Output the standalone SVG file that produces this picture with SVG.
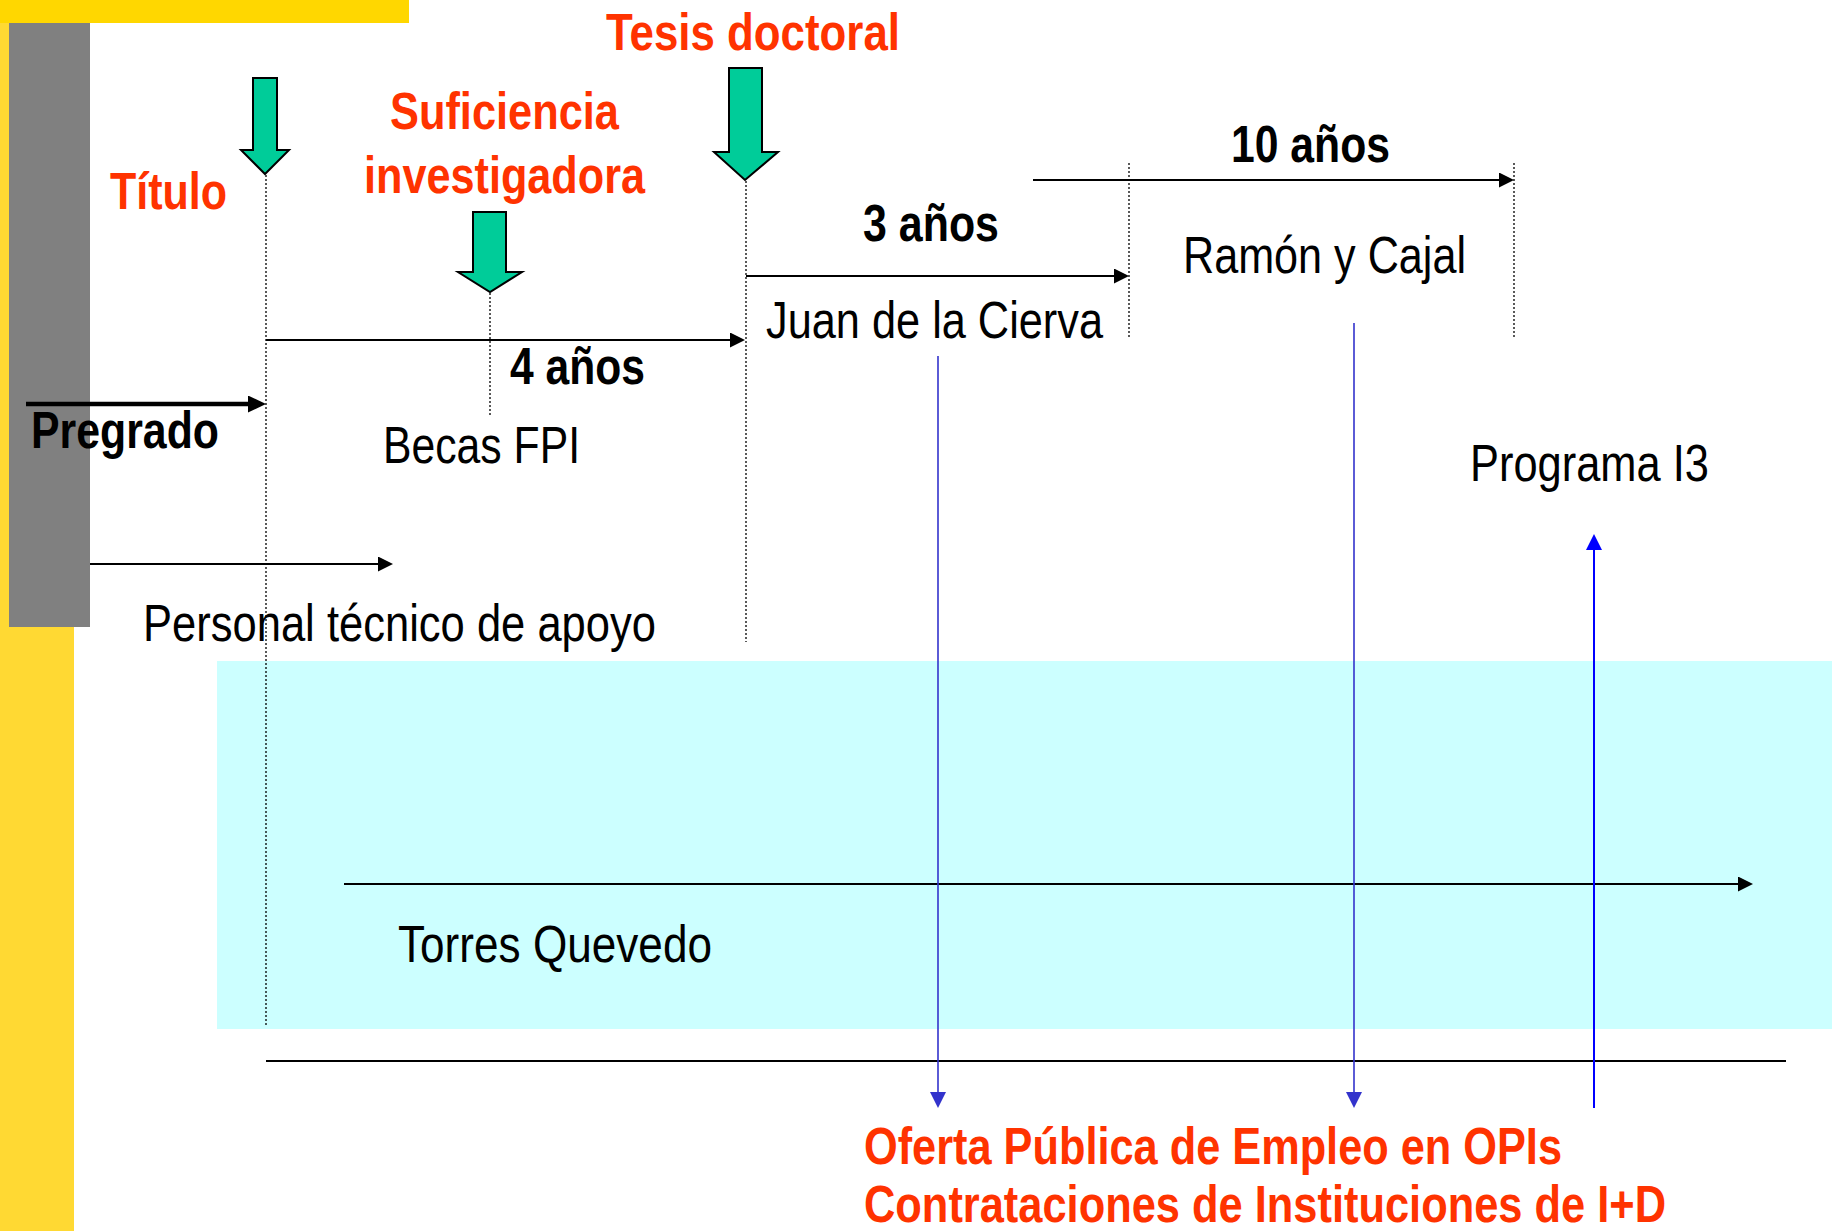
<svg xmlns="http://www.w3.org/2000/svg" width="1832" height="1231" viewBox="0 0 1832 1231">
<style>
text{font-family:"Liberation Sans Narrow","Liberation Sans",Arial,sans-serif;font-size:52px;fill:#000}
.b{font-weight:bold}
.red{fill:#FF3300;font-weight:bold}
.dot{stroke:#000;stroke-width:1.3;stroke-dasharray:2 2;fill:none}
.ln{stroke:#000;stroke-width:2;fill:none}
.thick{stroke:#000;stroke-width:4.5;fill:none}
.blue{stroke:#3333CC;stroke-width:1.6;fill:none}
.green{fill:#00CC99;stroke:#000;stroke-width:2;stroke-linejoin:miter}
</style>
<defs>
<marker id="ah" viewBox="0 0 10 10" refX="0" refY="5" markerWidth="15" markerHeight="15" markerUnits="userSpaceOnUse" orient="auto"><path d="M0,0 L10,5 L0,10 z" fill="#000"/></marker>
<marker id="ahb" viewBox="0 0 10 10" refX="0" refY="5" markerWidth="18" markerHeight="17" markerUnits="userSpaceOnUse" orient="auto" preserveAspectRatio="none"><path d="M0,0 L10,5 L0,10 z" fill="#000"/></marker>
<marker id="ab" viewBox="0 0 10 10" refX="0" refY="5" markerWidth="16" markerHeight="16" markerUnits="userSpaceOnUse" orient="auto"><path d="M0,0 L10,5 L0,10 z" fill="#3333CC"/></marker>
<marker id="ab2" viewBox="0 0 10 10" refX="0" refY="5" markerWidth="16" markerHeight="16" markerUnits="userSpaceOnUse" orient="auto"><path d="M0,0 L10,5 L0,10 z" fill="#0000FF"/></marker>
</defs>
<g id="background">
<rect x="0" y="0" width="74" height="1231" fill="#FFD933"/>
<rect x="0" y="0" width="409" height="23" fill="#FFD700"/>
<rect x="9" y="23" width="81" height="604" fill="#808080"/>
<rect x="217" y="661" width="1615" height="368" fill="#CCFFFF"/>
</g>
<g id="connectors">
<line class="dot" x1="266" y1="175" x2="266" y2="1027"/>
<line class="dot" x1="490" y1="293" x2="490" y2="417"/>
<line class="dot" x1="746" y1="181" x2="746" y2="642"/>
<line class="dot" x1="1129" y1="163" x2="1129" y2="337"/>
<line class="dot" x1="1514" y1="163" x2="1514" y2="337"/>
<line class="thick" x1="26" y1="404" x2="248" y2="404" marker-end="url(#ahb)"/>
<line class="ln" x1="266" y1="340" x2="730" y2="340" marker-end="url(#ah)"/>
<line class="ln" x1="746" y1="276" x2="1114" y2="276" marker-end="url(#ah)"/>
<line class="ln" x1="1033" y1="180" x2="1499" y2="180" marker-end="url(#ah)"/>
<line class="ln" x1="90" y1="564" x2="378" y2="564" marker-end="url(#ah)"/>
<line class="ln" x1="344" y1="884" x2="1738" y2="884" marker-end="url(#ah)"/>
<line class="ln" x1="266" y1="1061" x2="1786" y2="1061"/>
<line class="blue" x1="938" y1="356" x2="938" y2="1092" marker-end="url(#ab)"/>
<line class="blue" x1="1354" y1="323" x2="1354" y2="1092" marker-end="url(#ab)"/>
<line x1="1594" y1="1108" x2="1594" y2="550" stroke="#0000FF" stroke-width="2" marker-end="url(#ab2)"/>
</g>
<g id="titulo">
<polygon class="green" points="253,78 277,78 277,150 289,150 265,174 241,150 253,150"/>
<text class="red" x="110" y="209" textLength="117" lengthAdjust="spacingAndGlyphs">Título</text>
</g>
<g id="suficiencia">
<polygon class="green" points="473,212 506,212 506,272 522,272 490,292 458,272 473,272"/>
<text class="red" x="390" y="129" textLength="229" lengthAdjust="spacingAndGlyphs">Suficiencia</text>
<text class="red" x="364" y="193" textLength="281" lengthAdjust="spacingAndGlyphs">investigadora</text>
</g>
<g id="tesis">
<polygon class="green" points="729,68 762,68 762,152 778,152 745,180 714,152 729,152"/>
<text class="red" x="606" y="50" textLength="294" lengthAdjust="spacingAndGlyphs">Tesis doctoral</text>
</g>
<g id="labels">
<text class="b" x="1231" y="162" textLength="159" lengthAdjust="spacingAndGlyphs">10 años</text>
<text class="b" x="863" y="241" textLength="136" lengthAdjust="spacingAndGlyphs">3 años</text>
<text class="b" x="510" y="384" textLength="135" lengthAdjust="spacingAndGlyphs">4 años</text>
<text class="b" x="31" y="448" textLength="188" lengthAdjust="spacingAndGlyphs">Pregrado</text>
</g>
<g id="juan"><text x="766" y="338" textLength="337" lengthAdjust="spacingAndGlyphs">Juan de la Cierva</text></g>
<g id="ramon"><text x="1183" y="273" textLength="283" lengthAdjust="spacingAndGlyphs">Ramón y Cajal</text></g>
<g id="becas"><text x="383" y="463" textLength="197" lengthAdjust="spacingAndGlyphs">Becas FPI</text></g>
<g id="i3"><text x="1470" y="481" textLength="239" lengthAdjust="spacingAndGlyphs">Programa I3</text></g>
<g id="personal"><text x="143" y="641" textLength="513" lengthAdjust="spacingAndGlyphs">Personal técnico de apoyo</text></g>
<g id="torres"><text x="398" y="962" textLength="314" lengthAdjust="spacingAndGlyphs">Torres Quevedo</text></g>
<g id="oferta">
<text class="red" x="864" y="1164" textLength="698" lengthAdjust="spacingAndGlyphs">Oferta Pública de Empleo en OPIs</text>
<text class="red" x="864" y="1222" textLength="802" lengthAdjust="spacingAndGlyphs">Contrataciones de Instituciones de I+D</text>
</g>
</svg>
